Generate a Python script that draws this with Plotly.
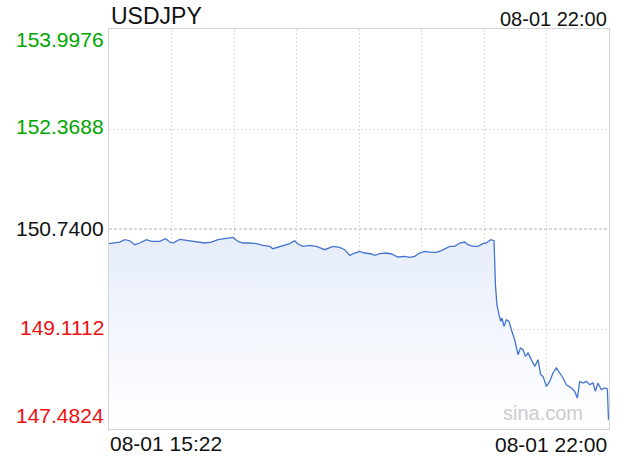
import plotly.graph_objects as go

# ---- data (minutes after 08-01 15:22, USDJPY rate) ----
minutes = [0, 4.5, 8.5, 12.5, 16.5, 20.5, 24.4, 29.8, 33.8, 40.4, 45.1, 48.3, 50.9, 56.3, 62.9,
           68.2, 76.2, 81.5, 86.8, 92.1, 98.7, 102.7, 106.7, 112.0, 117.3, 122.6, 127.9, 130.5,
           134.5, 139.9, 143.8, 147.8, 150.4, 154.4, 159.8, 165.1, 171.7, 178.3, 183.6, 187.6,
           191.6, 195.6, 199.6, 203.6, 208.9, 211.5, 215.5, 220.8, 224.8, 230.0, 235.4, 239.4,
           243.3, 247.3, 251.3, 256.6, 260.6, 264.6, 267.2, 271.2, 275.2, 279.2, 283.1, 285.8,
           289.7, 293.7, 297.7, 300.4, 303.8, 306.5, 307.6, 308.8, 310.4, 311.8, 312.8, 314.4,
           316.3, 318.4, 320.3, 322.9, 325.6, 327.5, 329.5, 331.5, 333.5, 336.2, 338.9, 341.5,
           343.6, 345.5, 348.2, 350.8, 353.4, 356.1, 358.8, 361.4, 364.1, 368.1, 370.7, 372.8,
           374.7, 377.3, 380.0, 382.6, 385.3, 387.2, 389.2, 391.9, 394.6, 396.7, 397.6]
rates = [150.501, 150.512, 150.528, 150.566, 150.549, 150.484, 150.512, 150.566, 150.538, 150.538,
         150.582, 150.528, 150.512, 150.571, 150.549, 150.538, 150.512, 150.528, 150.566, 150.582,
         150.603, 150.538, 150.512, 150.512, 150.501, 150.473, 150.457, 150.419, 150.447, 150.473,
         150.501, 150.549, 150.496, 150.457, 150.473, 150.457, 150.403, 150.457, 150.440, 150.403,
         150.310, 150.349, 150.375, 150.349, 150.333, 150.310, 150.338, 150.349, 150.333, 150.284,
         150.294, 150.277, 150.294, 150.349, 150.375, 150.359, 150.359, 150.387, 150.419, 150.457,
         150.457, 150.512, 150.528, 150.484, 150.457, 150.457, 150.501, 150.512, 150.566, 150.549,
         149.833, 149.507, 149.344, 149.235, 149.290, 149.154, 149.263, 149.235, 149.100, 148.937,
         148.693, 148.802, 148.774, 148.665, 148.720, 148.611, 148.502, 148.611, 148.367, 148.339,
         148.176, 148.258, 148.395, 148.476, 148.395, 148.313, 148.204, 148.150, 148.095, 147.987,
         148.258, 148.232, 148.258, 148.204, 148.232, 148.095, 148.232, 148.123, 148.150, 148.134,
         147.634]

title = "USDJPY"
prev_close = 150.74
y_ticks = [153.9976, 152.3688, 150.7400, 149.1112, 147.4824]
y_tick_labels = ["153.9976", "152.3688", "150.7400", "149.1112", "147.4824"]
x_start_label = "08-01 15:22"
x_end_label = "08-01 22:00"
total_minutes = 398

FONT = "Liberation Sans, Arial, Helvetica, sans-serif"
GREEN = "#00a600"
RED = "#f01010"

fig = go.Figure()
fig.add_trace(go.Scatter(
    x=minutes, y=rates, mode="lines",
    line=dict(color="#4274d0", width=1.3),
    fill="tozeroy",
    fillgradient=dict(type="vertical", start=y_ticks[-1], stop=max(rates),
                      colorscale=[[0, "rgba(255,255,255,1)"], [1, "#e6edfa"]]),
    hoverinfo="skip", showlegend=False,
))

# previous close reference line
fig.add_shape(type="line", xref="paper", x0=0, x1=1, yref="y", y0=prev_close, y1=prev_close,
              line=dict(color="#b0b0b0", width=1, dash="3px,2px"), layer="above")

fig.update_xaxes(
    range=[0, total_minutes], tick0=0, dtick=total_minutes / 8,
    showticklabels=False, ticks="", showgrid=True, gridcolor="#dcdcdc", griddash="2px,2px",
    gridwidth=1, zeroline=False, showline=True, linecolor="#d4d4d4", linewidth=1, mirror=True,
)
fig.update_yaxes(
    range=[y_ticks[-1], y_ticks[0]], tickvals=[y_ticks[1], y_ticks[3]],
    showticklabels=False, ticks="", showgrid=True, gridcolor="#dcdcdc", griddash="2px,2px",
    gridwidth=1, zeroline=False, showline=True, linecolor="#d4d4d4", linewidth=1, mirror=True,
)

shifts = [-10.7, 3, 1, 1.5, 13.5]
for v, lab, s in zip(y_ticks, y_tick_labels, shifts):
    if v > prev_close + 1e-9:
        col = GREEN
    elif v < prev_close - 1e-9:
        col = RED
    else:
        col = "#111111"
    fig.add_annotation(x=0, xref="paper", y=v, yref="y", text=lab, showarrow=False,
                       xanchor="right", yanchor="middle", xshift=-3, yshift=s,
                       font=dict(family=FONT, size=21, color=col))

fig.add_annotation(x=0, xref="paper", y=1, yref="paper", text=title, showarrow=False,
                   xanchor="left", yanchor="middle", xshift=0, yshift=13,
                   font=dict(family=FONT, size=23, color="#111111"))
fig.add_annotation(x=1, xref="paper", y=1, yref="paper", text=x_end_label, showarrow=False,
                   xanchor="right", yanchor="middle", xshift=0, yshift=10,
                   font=dict(family=FONT, size=20, color="#111111"))
fig.add_annotation(x=0, xref="paper", y=0, yref="paper", text=x_start_label, showarrow=False,
                   xanchor="left", yanchor="middle", xshift=-1, yshift=-14,
                   font=dict(family=FONT, size=21, color="#111111"))
fig.add_annotation(x=1, xref="paper", y=0, yref="paper", text=x_end_label, showarrow=False,
                   xanchor="right", yanchor="middle", xshift=0, yshift=-15,
                   font=dict(family=FONT, size=21, color="#111111"))
fig.add_annotation(x=1, xref="paper", y=0, yref="paper", text="sina.com", showarrow=False,
                   xanchor="right", yanchor="middle", xshift=-24, yshift=16,
                   font=dict(family=FONT, size=20, color="#cccccc"))

fig.update_layout(
    width=620, height=460,
    margin=dict(l=109, r=11, t=29, b=31, pad=0),
    paper_bgcolor="white", plot_bgcolor="white",
    font=dict(family=FONT),
)

fig.write_html("out.html", config={"displayModeBar": False},
               post_script="document.body.style.margin='0';")
